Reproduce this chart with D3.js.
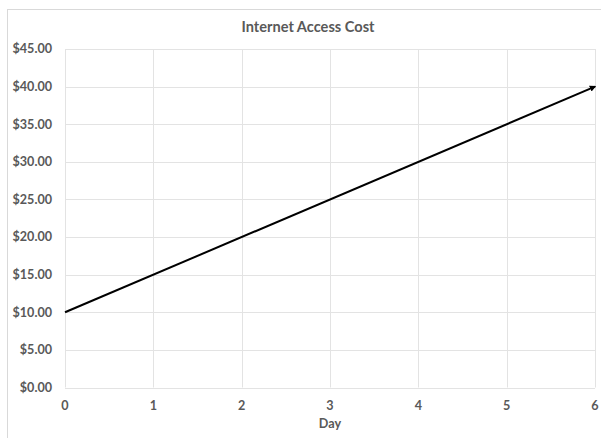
<!DOCTYPE html>
<html>
<head>
<meta charset="utf-8">
<script src="https://cdn.jsdelivr.net/npm/d3@7"></script>
<style>
  html, body { margin: 0; padding: 0; background: #fff; }
  svg { display: block; }
  text { font-family: Lato, "Open Sans", sans-serif; fill: #595959; }
</style>
</head>
<body>
<svg id="chart" width="601" height="438"></svg>
<script>
// Cost of internet access by day
const days = [0, 6];
const costs = [10, 40];
const xTicks = [0, 1, 2, 3, 4, 5, 6];
const yTicks = [0, 5, 10, 15, 20, 25, 30, 35, 40, 45];
const title = "Internet Access Cost";
const xTitle = "Day";

const svg = d3.select("#chart");
const W = 601, H = 438;
const plot = { left: 65, right: 595, top: 49, bottom: 387.5 };

// outer chart frame
svg.append("rect")
  .attr("x", 7.5).attr("y", 9.5)
  .attr("width", W + 20).attr("height", H + 20)
  .attr("fill", "#fff").attr("stroke", "#d9d9d9").attr("stroke-width", 1);

const x = d3.scaleLinear().domain([0, 6]).range([plot.left, plot.right]);
const y = d3.scaleLinear().domain([0, 45]).range([plot.bottom, plot.top]);

// horizontal gridlines
svg.append("g").selectAll("line").data(yTicks).join("line")
  .attr("x1", plot.left).attr("x2", plot.right)
  .attr("y1", d => Math.round(y(d)) + 0.5).attr("y2", d => Math.round(y(d)) + 0.5)
  .attr("stroke", "#e3e3e3").attr("stroke-width", 1);

// vertical gridlines
svg.append("g").selectAll("line").data(xTicks).join("line")
  .attr("x1", d => Math.round(x(d)) + 0.5).attr("x2", d => Math.round(x(d)) + 0.5)
  .attr("y1", plot.top).attr("y2", plot.bottom)
  .attr("stroke", "#e3e3e3").attr("stroke-width", 1);

// y tick labels
const fmt = d3.format("$.2f");
svg.append("g").selectAll("text").data(yTicks).join("text")
  .attr("x", 52).attr("y", d => y(d))
  .attr("dy", "0.35em").attr("text-anchor", "end")
  .attr("font-size", 12.6).attr("font-weight", 700)
  .text(d => fmt(d));

// x tick labels
svg.append("g").selectAll("text").data(xTicks).join("text")
  .attr("x", d => x(d)).attr("y", 406)
  .attr("dy", "0.35em").attr("text-anchor", "middle")
  .attr("font-size", 12.6).attr("font-weight", 700)
  .text(d => d);

// axis title
svg.append("text")
  .attr("x", (plot.left + plot.right) / 2).attr("y", 424)
  .attr("dy", "0.35em").attr("text-anchor", "middle")
  .attr("font-size", 12.6).attr("font-weight", 700)
  .text(xTitle);

// chart title
svg.append("text")
  .attr("x", 308).attr("y", 27)
  .attr("dy", "0.35em").attr("text-anchor", "middle")
  .attr("font-size", 14.6).attr("font-weight", 700)
  .text(title);

// arrowhead marker
svg.append("defs").append("marker")
  .attr("id", "arrow")
  .attr("viewBox", "0 0 10 10")
  .attr("refX", 8).attr("refY", 5)
  .attr("markerWidth", 3.2).attr("markerHeight", 3.2)
  .attr("markerUnits", "strokeWidth")
  .attr("orient", "auto")
  .append("path").attr("d", "M0,0 L10,5 L0,10 Z").attr("fill", "#000");

// cost line
const pts = days.map((d, i) => [d, costs[i]]);
svg.append("path")
  .datum(pts)
  .attr("d", d3.line().x(d => x(d[0])).y(d => y(d[1])))
  .attr("fill", "none").attr("stroke", "#000").attr("stroke-width", 2)
  .attr("marker-end", "url(#arrow)");
</script>
</body>
</html>
